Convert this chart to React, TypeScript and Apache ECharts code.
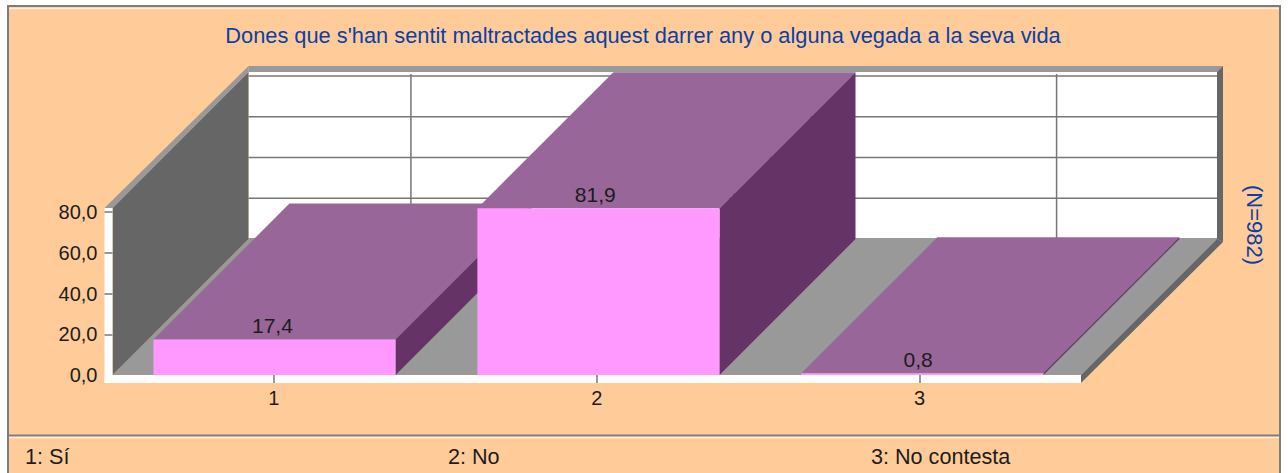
import React, { useEffect, useRef } from "react";
import * as echarts from "echarts";

const categories = ["1", "2", "3"];
const values = [17.4, 81.9, 0.8];
const yTicks = [0, 20, 40, 60, 80];
const titleText = "Dones que s'han sentit maltractades aquest darrer any o alguna vegada a la seva vida";
const sideNote = "(N=982)";
const footerLabels = ["1: Sí", "2: No", "3: No contesta"];
const footerX = [25, 448, 871];

const DEPTH = 136;
const BAR_RATIO = 0.75;
const BAR_DRIFT = 1.1;
const BLUE = "#0B3FA5";
const INK = "#1c1c1c";
const FONT = "'Liberation Sans', Arial, sans-serif";
const fmt = (v: number) => v.toFixed(1).replace(".", ",");

const poly = (points: number[][], fill: string) => ({
  type: "polygon",
  shape: { points },
  style: { fill },
  silent: true,
});

function renderBackdrop(_: any, api: any) {
  const band = api.size([1, 0])[0];
  const [cx0, y0] = api.coord([0, 0]);
  const xl = cx0 - band / 2;
  const xr = xl + band * categories.length;
  const yMax = api.coord([0, 80])[1];
  const bx0 = xl + DEPTH;
  const bx1 = xr + DEPTH;
  const by0 = y0 - DEPTH;
  const by1 = yMax - DEPTH;
  const top = by1 - 4;
  const outer = top - 6;
  const children: any[] = [
    { type: "rect", shape: { x: bx0, y: top, width: bx1 - bx0, height: by0 - top }, style: { fill: "#fff" }, silent: true },
  ];
  const gridStyle = { stroke: "#777", lineWidth: 1.5 };
  yTicks.forEach((t) => {
    const y = api.coord([0, t])[1] - DEPTH;
    children.push({ type: "line", shape: { x1: bx0, y1: y, x2: bx1, y2: y }, style: gridStyle, silent: true });
  });
  categories.forEach((_c, i) => {
    const x = api.coord([i, 0])[0] + DEPTH + 1;
    children.push({ type: "line", shape: { x1: x, y1: by1 - 2, x2: x, y2: by0 }, style: gridStyle, silent: true });
  });
  children.push(
    poly([[xl, y0], [xr, y0], [bx1, by0], [bx0, by0]], "#999999"),
    poly([[xl, y0], [bx0, by0], [bx0, top], [xl, yMax - 4]], "#666666"),
    poly([[xl - 8, yMax - 4], [xl, yMax - 4], [bx0, top], [bx0, outer]], "#999999"),
    poly([[bx0, outer], [bx1 + 6, outer], [bx1, top], [bx0, top]], "#999999"),
    poly([[bx1, top], [bx1 + 6, outer], [bx1 + 6, by0 + 3], [bx1, by0]], "#666666"),
    poly([[bx1, by0], [bx1 + 6, by0 + 3], [xr, y0 + 8], [xr, y0]], "#666666"),
    { type: "rect", shape: { x: xl - 8, y: yMax - 4, width: 8, height: y0 + 8 - yMax + 4 }, style: { fill: "#fff" }, silent: true },
    { type: "rect", shape: { x: xl - 8, y: y0, width: xr - xl + 8, height: 8 }, style: { fill: "#fff" }, silent: true },
  );
  return { type: "group", children };
}

function renderBar(_: any, api: any) {
  const cat = api.value(0);
  const val = api.value(1);
  const [cx, y0] = api.coord([cat, 0]);
  const yv = api.coord([cat, val])[1];
  const w = api.size([1, 0])[0] * BAR_RATIO;
  const l = cx - w / 2 + 0.6 + cat * BAR_DRIFT;
  const r = l + w;
  return {
    type: "group",
    children: [
      poly([[l, yv], [r, yv], [r + DEPTH, yv - DEPTH], [l + DEPTH, yv - DEPTH]], "#996699"),
      poly([[r, y0], [r, yv], [r + DEPTH, yv - DEPTH], [r + DEPTH, y0 - DEPTH]], "#663366"),
      { type: "rect", shape: { x: l, y: yv, width: w, height: y0 - yv }, style: { fill: "#FF99FF" }, silent: true },
      {
        type: "text",
        style: {
          x: cx - 1.5,
          y: yv - 3.5,
          text: fmt(val),
          fill: INK,
          font: `21px ${FONT}`,
          textAlign: "center",
          textVerticalAlign: "bottom",
        },
        silent: true,
      },
    ],
  };
}

export default function App() {
  const ref = useRef<HTMLDivElement>(null);
  useEffect(() => {
    const chart = echarts.init(ref.current!, undefined, { renderer: "svg" });
    chart.setOption({
      animation: false,
      backgroundColor: "#ffffff",
      title: {
        text: titleText,
        left: 638,
        top: 19,
        textAlign: "center",
        textStyle: { color: BLUE, fontSize: 21.8, fontWeight: "normal", fontFamily: FONT },
      },
      grid: { left: 112.5, right: 207, top: 212, bottom: 98, containLabel: false },
      xAxis: {
        type: "category",
        data: categories,
        z: 5,
        axisLine: { show: false },
        axisTick: { show: true, alignWithLabel: true, length: 8, lineStyle: { color: "#777", width: 1.5 } },
        axisLabel: { color: INK, fontSize: 20, fontFamily: FONT, margin: 13 },
        splitLine: { show: false },
      },
      yAxis: {
        type: "value",
        min: 0,
        max: 80,
        interval: 20,
        z: 5,
        axisLine: { show: false },
        axisTick: { show: true, length: 8, customValues: yTicks.slice(1), lineStyle: { color: "#777", width: 1.5 } },
        axisLabel: { color: INK, fontSize: 20, fontFamily: FONT, margin: 15, formatter: (v: number) => fmt(v) },
        splitLine: { show: false },
      },
      graphic: [
        { type: "rect", z: -10, shape: { x: 8, y: 6, width: 1272, height: 480 }, style: { fill: "#FFCC99", stroke: "#7d7d7d", lineWidth: 2 }, silent: true },
        { type: "line", z: -9, shape: { x1: 9, y1: 8.5, x2: 1279, y2: 8.5 }, style: { stroke: "#FFEEDD", lineWidth: 1.5 }, silent: true },
        { type: "line", z: -9, shape: { x1: 9, y1: 435.5, x2: 1279, y2: 435.5 }, style: { stroke: "#7d7d7d", lineWidth: 2 }, silent: true },
        { type: "line", z: -9, shape: { x1: 9, y1: 437.5, x2: 1279, y2: 437.5 }, style: { stroke: "#FFEEDD", lineWidth: 1.5 }, silent: true },
        {
          type: "text",
          z: 5,
          x: 1254,
          y: 225,
          rotation: -Math.PI / 2,
          style: { text: sideNote, fill: BLUE, font: `22px ${FONT}`, textAlign: "center", textVerticalAlign: "middle" },
          silent: true,
        },
        ...footerLabels.map((text, i) => ({
          type: "text",
          z: 5,
          x: footerX[i],
          y: 456,
          style: { text, fill: INK, font: `21.6px ${FONT}`, textAlign: "left", textVerticalAlign: "middle" },
          silent: true,
        })),
      ],
      series: [
        { type: "custom", z: 1, silent: true, coordinateSystem: "cartesian2d", data: [[0, 0]], renderItem: renderBackdrop },
        {
          type: "custom",
          z: 2,
          silent: true,
          coordinateSystem: "cartesian2d",
          encode: { x: 0, y: 1 },
          data: values.map((v, i) => [i, v]),
          renderItem: renderBar,
        },
      ],
    });
    return () => chart.dispose();
  }, []);
  return <div ref={ref} style={{ position: "absolute", left: 0, top: 0, width: 1288, height: 473 }} />;
}
